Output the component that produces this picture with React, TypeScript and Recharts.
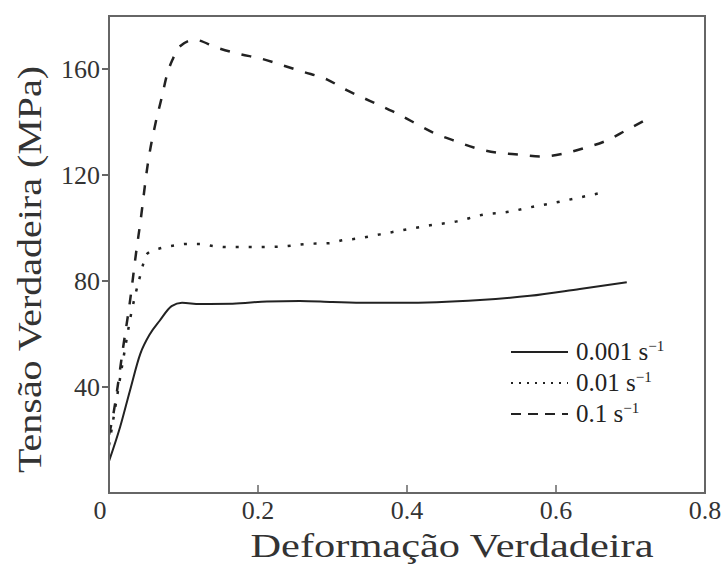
import React from "react";
import { LineChart, Line, XAxis, YAxis, ReferenceArea, Legend } from "recharts";

const SERIF = '"Liberation Serif", "Times New Roman", serif';
const INK = "#222";
const AXIS = "#666";

// Strain values (x) and stress values (y) per strain rate
const strain001 = [0, 0.015, 0.028, 0.042, 0.055, 0.068, 0.084, 0.098, 0.122, 0.166, 0.212, 0.256, 0.3, 0.346, 0.39, 0.44, 0.498, 0.565, 0.632, 0.695];
const stress001 = [12, 25, 38.5, 52.5, 60, 65, 70.5, 71.8, 71.3, 71.4, 72.3, 72.5, 72.1, 71.8, 71.8, 72, 72.8, 74.4, 77, 79.5];

const strain01 = [0, 0.01, 0.02, 0.03, 0.04, 0.052, 0.071, 0.089, 0.106, 0.122, 0.14, 0.158, 0.193, 0.23, 0.266, 0.297, 0.314, 0.333, 0.364, 0.4, 0.431, 0.467, 0.502, 0.534, 0.569, 0.588, 0.623, 0.656];
const stress01 = [18, 35, 52, 68, 80, 90.5, 92.5, 93.5, 94, 94, 93.2, 92.8, 92.8, 93, 94, 94.3, 95.4, 96, 97.6, 99.5, 101, 102.5, 105, 106, 108, 109, 111, 113];

const strain1 = [0, 0.006, 0.011, 0.019, 0.028, 0.037, 0.042, 0.052, 0.062, 0.071, 0.078, 0.086, 0.093, 0.115, 0.145, 0.176, 0.203, 0.232, 0.26, 0.293, 0.319, 0.35, 0.381, 0.408, 0.435, 0.467, 0.494, 0.52, 0.552, 0.579, 0.609, 0.636, 0.668, 0.695, 0.722];
const stress1 = [22, 30, 39, 55, 72, 92, 102, 124, 139, 149.5, 158, 164, 168, 171, 168, 165.6, 164, 161.5, 159, 156, 152, 148, 144, 140, 136, 132.6, 130, 128.5, 127.7, 127, 128, 130, 133, 137, 141];

const xTicks = [0, 0.2, 0.4, 0.6, 0.8];
const yTicks = [40, 80, 120, 160];
const seriesLabels = ["0.001", "0.01", "0.1"];

const toPoints = (xs: number[], ys: number[]) => xs.map((x, i) => ({ x, y: ys[i] }));
const data001 = toPoints(strain001, stress001);
const data01 = toPoints(strain01, stress01);
const data1 = toPoints(strain1, stress1);

const legendDashes = [undefined, "2 6", "10 7"];

const XTick = (props: any) => {
  const { x, y, payload } = props;
  const v = payload.value as number;
  const label = v === 0 ? "0" : String(v);
  return (
    <g>
      <line x1={x} x2={x} y1={y} y2={y - 8} stroke={AXIS} strokeWidth={1.5} />
      <text x={v === 0 ? x - 9 : x} y={y + 26} textAnchor="middle" fontFamily={SERIF} fontSize={26} fill="#333">
        {label}
      </text>
    </g>
  );
};

const LegendContent = () => (
  <div style={{ fontFamily: SERIF, fontSize: 25, color: INK }}>
    {seriesLabels.map((lab, i) => (
      <div key={lab} style={{ display: "flex", alignItems: "center", height: 31 }}>
        <svg width={60} height={10} style={{ display: "block" }}>
          <line x1={1} x2={58} y1={5} y2={5} stroke={INK} strokeWidth={2} strokeDasharray={legendDashes[i]} />
        </svg>
        <span style={{ marginLeft: 6, lineHeight: "31px", whiteSpace: "nowrap" }}>
          {lab} s
          <span style={{ fontSize: "60%", verticalAlign: "super", lineHeight: 0 }}>−1</span>
        </span>
      </div>
    ))}
  </div>
);

export default function App() {
  return (
    <div style={{ position: "absolute", left: 0, top: 0, width: 727, height: 565, background: "#fff" }}>
      <LineChart width={727} height={565} margin={{ top: 16, right: 22, bottom: 0, left: 0 }}>
        <XAxis
          type="number"
          dataKey="x"
          domain={[0, 0.8]}
          ticks={xTicks}
          allowDataOverflow
          height={72}
          tickSize={0}
          tickMargin={0}
          tickLine={false}
          stroke={AXIS}
          strokeWidth={2}
          tick={<XTick />}
          label={(p: any) => {
            const vb = p.viewBox || {};
            return (
              <text
                x={vb.x + vb.width / 2 + 45}
                y={vb.y + 64}
                textAnchor="middle"
                fontFamily={SERIF}
                fontSize={34}
                fill="#333"
                textLength={403}
                lengthAdjust="spacingAndGlyphs"
              >
                Deformação Verdadeira
              </text>
            );
          }}
        />
        <YAxis
          type="number"
          dataKey="y"
          domain={[0, 180]}
          ticks={yTicks}
          allowDataOverflow
          width={109}
          tickSize={7}
          tickMargin={2}
          stroke={AXIS}
          strokeWidth={2}
          tick={{ fontFamily: SERIF, fontSize: 26, fill: "#333" }}
          label={(p: any) => {
            const vb = p.viewBox || {};
            const cx = 29;
            const cy = vb.y + vb.height / 2 + 15;
            return (
              <text
                x={cx}
                y={cy}
                transform={`rotate(-90 ${cx} ${cy})`}
                textAnchor="middle"
                dominantBaseline="central"
                fontFamily={SERIF}
                fontSize={34}
                fill="#333"
                textLength={407}
                lengthAdjust="spacingAndGlyphs"
              >
                Tensão Verdadeira (MPa)
              </text>
            );
          }}
        />
        <ReferenceArea x1={0} x2={0.8} y1={0} y2={180} fill="none" stroke={AXIS} strokeWidth={2} ifOverflow="extendDomain" />
        <Line data={data001} dataKey="y" type="monotone" stroke={INK} strokeWidth={2} dot={false} isAnimationActive={false} />
        <Line data={data01} dataKey="y" type="monotone" stroke={INK} strokeWidth={2.5} strokeDasharray="3 10" dot={false} isAnimationActive={false} />
        <Line data={data1} dataKey="y" type="monotone" stroke={INK} strokeWidth={2.5} strokeDasharray="10 12" dot={false} isAnimationActive={false} />
        <Legend
          layout="vertical"
          align="center"
          verticalAlign="middle"
          content={<LegendContent />}
          wrapperStyle={{ position: "absolute", left: 510, top: 336, width: "auto", height: "auto" }}
        />
      </LineChart>
    </div>
  );
}
